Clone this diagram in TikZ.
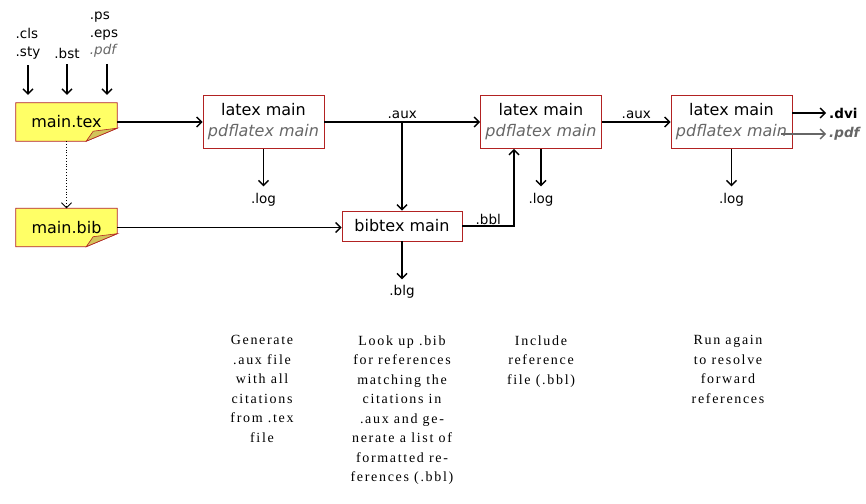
\documentclass[tikz,border=0pt]{standalone}
\usepackage{fontspec}
\setmainfont{DejaVu Sans}
\newfontfamily\notefont[LetterSpace=12]{Liberation Serif}
\usepackage{xcolor}
\usetikzlibrary{arrows.meta,backgrounds}

\definecolor{boxred}{HTML}{B22222}
\definecolor{noteyellow}{HTML}{FFFF66}
\definecolor{notefold}{HTML}{D2C35A}
\definecolor{pdfgray}{HTML}{666666}

\tikzset{
  >={Straight Barb[length=5pt,width=10pt]},
  flow/.style={line width=1.4pt},
  runbox/.style={draw=boxred, line width=0.9pt, minimum width=121pt, minimum height=53pt,
    align=center, inner sep=0pt, font=\fontsize{16}{21}\selectfont},
  notebox/.style={minimum width=101pt, minimum height=38pt, inner sep=0pt,
    font=\fontsize{16}{20}\selectfont},
  ext/.style={font=\fontsize{13.5}{17.5}\selectfont, inner sep=1pt},
  remark/.style={align=center, font=\notefont\fontsize{14}{19.5}\selectfont},
}

\begin{document}
\begin{tikzpicture}[x=1pt,y=-1pt]
      \useasboundingbox (0,0) rectangle (866,503);
      % input files
      \node[notebox] (tex) at (66.5,122) {main.tex};
      \node[notebox] (bib) at (66.5,227.5) {main.bib};
      \begin{scope}[on background layer]
        \foreach \n in {tex,bib} {
          \draw[boxred, line width=0.8pt, fill=noteyellow] (\n.north west) -- (\n.north east)
            -- ([yshift=13pt]\n.south east) -- ([xshift=-31pt]\n.south east) -- (\n.south west) -- cycle;
          \draw[boxred, line width=0.6pt, fill=notefold] ([yshift=13pt]\n.south east)
            -- ([xshift=-24pt,yshift=10pt]\n.south east) -- ([xshift=-31pt]\n.south east) -- cycle;
        }
      \end{scope}
      \node[ext, align=left] (cls) at (28,44) {.cls\\.sty};
      \node[ext] (bst) at (67,53) {.bst};
      \node[ext, align=left] (pic) at (104,35) {.ps\\.eps\\\textcolor{pdfgray}{\itshape .pdf}};
      \draw[flow,->,shorten <=5pt,shorten >=8pt] (cls.south) -- (cls.south |- tex.north);
      \draw[flow,->,shorten <=5pt,shorten >=8pt] (bst.south) -- (bst.south |- tex.north);
      \draw[flow,->,shorten <=5pt,shorten >=8pt] ([xshift=3pt]pic.south) -- ([xshift=3pt]pic.south |- tex.north);
      \draw[->, dotted, line width=0.8pt] (tex) -- (bib);

      % runs
      \node[runbox] (latexa) at (263.5,122) {latex main\\\textcolor{pdfgray}{\itshape pdflatex main}};
      \node[runbox] (latexb) at (541,122) {latex main\\\textcolor{pdfgray}{\itshape pdflatex main}};
      \node[runbox] (latexc) at (731.5,122) {latex main\\\textcolor{pdfgray}{\itshape pdflatex main}};
      \node[runbox, minimum height=30pt, minimum width=120pt] (bibtex) at (402,226) {bibtex main};

      \node[ext] (loga) at (263.5,200) {.log};
      \node[ext] (logb) at (541,200) {.log};
      \node[ext] (logc) at (731.5,200) {.log};
      \node[ext] (blg) at (402,292) {.blg};
      \node[ext, anchor=west, font=\fontsize{13.5}{17.5}\selectfont\bfseries] (dvi) at (828,113) {.dvi};
      \node[ext, anchor=west, text=pdfgray, font=\fontsize{13.5}{17.5}\selectfont\bfseries\itshape] (pdf) at (828,134) {.pdf};

      \draw[flow,->] (tex) -- (latexa);
      \draw[flow,->] (latexa) -- node[ext, above=2pt] {.aux} (latexb);
      \draw[flow,->] (bibtex.north |- latexa.east) -- (bibtex);
      \draw[flow,->] (bib.east) -- (bib.east -| bibtex.west);
      \draw[flow,->] (bibtex.east) -| node[ext, above, pos=0.25] {.bbl} ([xshift=-27pt]latexb.south);
      \draw[flow,->] (latexb) -- node[ext, above=2pt] {.aux} (latexc);
      \draw[flow,->,shorten >=6pt] (latexa) -- (loga);
      \draw[flow,->,shorten >=6pt] (latexb) -- (logb);
      \draw[flow,->,shorten >=6pt] (latexc) -- (logc);
      \draw[flow,->,shorten >=5pt] (bibtex) -- (blg);
      \draw[flow,->,shorten >=2pt] (latexc.east |- dvi) -- (dvi);
      \draw[flow,->,shorten >=2pt, pdfgray] ([xshift=-11pt]latexc.east |- pdf) -- (pdf);

      % what each run does
      \node[remark, anchor=north] (doa) at (262,332) {Generate\\.aux file\\with all\\citations\\from .tex\\file};
      \node[remark, anchor=north] (dob) at (402,332) {Look up .bib\\for references\\matching the\\citations in\\.aux and ge-\\nerate a list of\\formatted re-\\ferences (.bbl)};
      \node[remark, anchor=north] (doc) at (541,332) {Include\\reference\\file (.bbl)};
      \node[remark, anchor=north] (dod) at (728,332) {Run again\\to resolve\\forward\\references};
    \end{tikzpicture}
\end{document}
